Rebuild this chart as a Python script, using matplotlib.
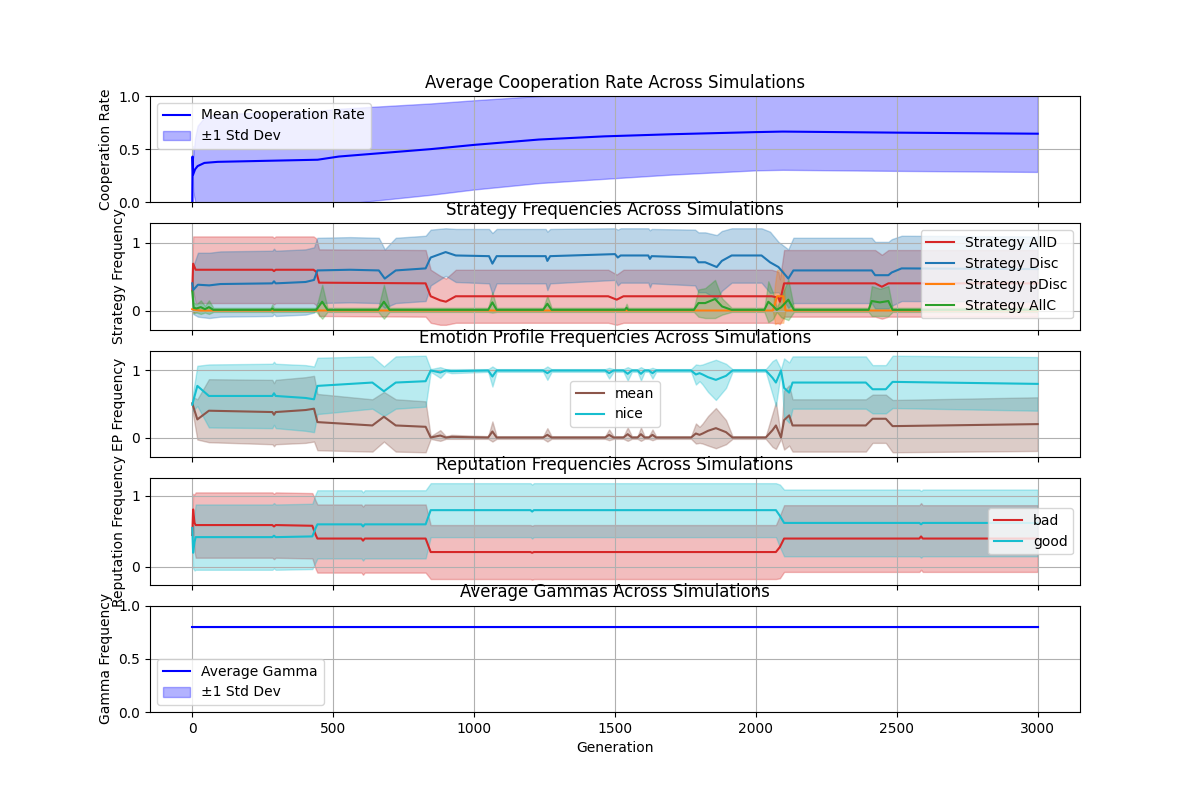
import numpy as np
import matplotlib
matplotlib.use('Agg')
import matplotlib.pyplot as plt

# --- cooperation rate (mean / std) ---
coop_gen = [0, 1, 3, 10, 19, 43, 90, 445, 520, 847, 1001, 1230, 1462, 1700, 2000, 2095, 2500, 3000]
coop_mean = [0.0, 0.43, 0.26, 0.31, 0.34, 0.37, 0.38, 0.40, 0.43, 0.50, 0.54, 0.59, 0.62, 0.64, 0.66, 0.665, 0.655, 0.645]
coop_std = [0.0, 0.1, 0.16, 0.3, 0.38, 0.43, 0.45, 0.46, 0.45, 0.43, 0.42, 0.41, 0.40, 0.38, 0.36, 0.36, 0.36, 0.36]

# --- strategies ---
alld_gen = [0, 3, 12, 284, 290, 296, 430, 440, 450, 828, 846, 880, 900, 935,
            1476, 1506, 1530, 2056, 2080, 2085, 2100, 2423, 2447, 2470, 3000]
alld_mean = [0.3, 0.69, 0.6, 0.6, 0.58, 0.6, 0.6, 0.57, 0.41, 0.4, 0.21, 0.15, 0.13, 0.21,
             0.21, 0.16, 0.21, 0.21, 0.19, 0.13, 0.4, 0.4, 0.35, 0.4, 0.4]
alld_std = [0.3, 0.4, 0.49, 0.49, 0.49, 0.49, 0.49, 0.49, 0.49, 0.49, 0.39, 0.36, 0.34, 0.39,
            0.39, 0.37, 0.39, 0.39, 0.38, 0.33, 0.49, 0.49, 0.47, 0.49, 0.49]

disc_gen = [0, 3, 20, 60, 100,
            284, 290, 296,
            402, 432, 444,
            560, 662, 683, 722,
            828, 846, 899, 935,
            1053, 1065, 1080,
            1254, 1260, 1270,
            1500, 1510, 1520,
            1618, 1624, 1630,
            1784, 1796, 1820,
            1861, 1879, 1914,
            2020, 2050, 2080,
            2115, 2133,
            2411, 2423, 2470, 2482, 2517,
            3000]
disc_mean = [0.4, 0.3, 0.38, 0.37, 0.39,
             0.4, 0.43, 0.4,
             0.42, 0.45, 0.59,
             0.6, 0.59, 0.47, 0.59,
             0.62, 0.78, 0.86, 0.81,
             0.8, 0.69, 0.8,
             0.8, 0.73, 0.8,
             0.83, 0.78, 0.81,
             0.81, 0.76, 0.8,
             0.78, 0.71, 0.71,
             0.64, 0.73, 0.81,
             0.81, 0.71, 0.64,
             0.47, 0.59,
             0.59, 0.52, 0.52, 0.56, 0.62,
             0.61]
disc_std = [0.2, 0.35, 0.47, 0.48, 0.48,
            0.48, 0.48, 0.48,
            0.48, 0.48, 0.48,
            0.48, 0.48, 0.43, 0.48,
            0.48, 0.41, 0.35, 0.39,
            0.4, 0.45, 0.4,
            0.4, 0.43, 0.4,
            0.38, 0.41, 0.4,
            0.4, 0.42, 0.4,
            0.41, 0.44, 0.44,
            0.47, 0.44, 0.4,
            0.4, 0.45, 0.37,
            0.43, 0.48,
            0.48, 0.49, 0.49, 0.49, 0.48,
            0.48]

pdisc_gen = [0, 10, 30, 2060, 2068, 2075, 2097, 2105, 3000]
pdisc_mean = [0.02, 0.01, 0.0, 0.0, 0.1, 0.21, 0.21, 0.0, 0.0]
pdisc_std = [0.05, 0.03, 0.0, 0.0, 0.3, 0.39, 0.39, 0.0, 0.0]

allc_gen = [0, 5, 15, 30, 45, 59, 75,
            278, 284, 290,
            440, 461, 480,
            660, 680, 700,
            1050, 1065, 1080,
            1245, 1260, 1275,
            1535, 1541, 1547,
            1780, 1796, 1820, 1855, 1880, 1914,
            2030, 2044, 2060, 2074, 2090, 2115, 2135,
            2400, 2411, 2440, 2470, 2485,
            3000]
allc_mean = [0.28, 0.04, 0.03, 0.05, 0.02, 0.05, 0.01,
             0.01, 0.03, 0.01,
             0.01, 0.13, 0.01,
             0.01, 0.13, 0.01,
             0.01, 0.12, 0.01,
             0.01, 0.1, 0.01,
             0.01, 0.04, 0.01,
             0.01, 0.11, 0.11, 0.17, 0.06, 0.01,
             0.01, 0.13, 0.07, 0.01, 0.05, 0.16, 0.01,
             0.01, 0.14, 0.12, 0.14, 0.01,
             0.01]
allc_std = [0.2, 0.08, 0.06, 0.1, 0.05, 0.1, 0.03,
            0.03, 0.06, 0.03,
            0.03, 0.25, 0.03,
            0.03, 0.25, 0.03,
            0.03, 0.15, 0.03,
            0.03, 0.12, 0.03,
            0.03, 0.06, 0.03,
            0.03, 0.2, 0.22, 0.28, 0.12, 0.03,
            0.03, 0.3, 0.2, 0.03, 0.15, 0.3, 0.03,
            0.03, 0.22, 0.2, 0.22, 0.03,
            0.03]

# --- emotion profiles ---
ep_gen = [0, 18, 59,
          284, 290, 296,
          402, 432, 444,
          639, 680, 722,
          828, 846, 880, 900, 920,
          1050, 1065, 1080,
          1245, 1260, 1275,
          1465, 1479, 1495,
          1530, 1545, 1560,
          1580, 1592, 1605,
          1620, 1633, 1646,
          1770, 1787, 1800, 1811, 1830, 1858, 1894, 1917,
          2035, 2059, 2071, 2089, 2100, 2118, 2130,
          2390, 2414, 2461, 2485,
          3000]
ep_nice = [0.49, 0.77, 0.62,
           0.62, 0.66, 0.62,
           0.59, 0.57, 0.77,
           0.82, 0.69, 0.82,
           0.84, 1.0, 0.97, 1.0, 0.99,
           1.0, 0.91, 1.0,
           1.0, 0.96, 1.0,
           1.0, 0.96, 1.0,
           1.0, 0.95, 1.0,
           1.0, 0.95, 1.0,
           1.0, 0.96, 1.0,
           1.0, 0.94, 0.96, 0.94, 0.9, 0.86, 0.92, 1.0,
           1.0, 0.89, 0.82, 1.0, 0.74, 0.67, 0.82,
           0.82, 0.72, 0.72, 0.83,
           0.8]
ep_mean = [0.51, 0.27, 0.4,
           0.38, 0.34, 0.38,
           0.41, 0.43, 0.23,
           0.18, 0.31, 0.18,
           0.16, 0.0, 0.03, 0.0, 0.01,
           0.0, 0.09, 0.0,
           0.0, 0.04, 0.0,
           0.0, 0.04, 0.0,
           0.0, 0.05, 0.0,
           0.0, 0.05, 0.0,
           0.0, 0.04, 0.0,
           0.0, 0.06, 0.04, 0.06, 0.1, 0.14, 0.08, 0.0,
           0.0, 0.11, 0.18, 0.0, 0.26, 0.33, 0.18,
           0.18, 0.28, 0.28, 0.17,
           0.2]
ep_std = [0.1, 0.3, 0.47,
          0.48, 0.47, 0.48,
          0.49, 0.49, 0.42,
          0.39, 0.37, 0.39,
          0.38, 0.02, 0.08, 0.02, 0.03,
          0.02, 0.15, 0.02,
          0.02, 0.1, 0.02,
          0.02, 0.08, 0.02,
          0.02, 0.1, 0.02,
          0.02, 0.1, 0.02,
          0.02, 0.08, 0.02,
          0.02, 0.15, 0.12, 0.15, 0.22, 0.3, 0.18, 0.02,
          0.02, 0.25, 0.35, 0.02, 0.44, 0.45, 0.39,
          0.39, 0.36, 0.36, 0.39,
          0.4]

# --- reputation ---
rep_gen = [0, 3, 8, 12, 284, 290, 296, 426, 438, 444, 600, 606, 612, 828, 846,
           1200, 1206, 1212, 2071, 2085, 2100, 2580, 2586, 2592, 3000]
rep_bad = [0.45, 0.81, 0.62, 0.59, 0.59, 0.57, 0.59, 0.58, 0.45, 0.4, 0.4, 0.37, 0.4, 0.4, 0.21,
           0.21, 0.2, 0.21, 0.21, 0.28, 0.4, 0.4, 0.43, 0.4, 0.4]
rep_good = [0.55, 0.2, 0.35, 0.42, 0.42, 0.44, 0.42, 0.43, 0.55, 0.6, 0.6, 0.57, 0.6, 0.6, 0.8,
            0.8, 0.78, 0.8, 0.8, 0.72, 0.62, 0.62, 0.6, 0.62, 0.62]
rep_std = [0.15, 0.22, 0.4, 0.46, 0.46, 0.46, 0.46, 0.46, 0.48, 0.48, 0.48, 0.48, 0.48, 0.48, 0.38,
           0.38, 0.38, 0.38, 0.38, 0.44, 0.47, 0.47, 0.47, 0.47, 0.47]

# --- gamma ---
gamma_gen = [0, 3000]
gamma_mean = [0.8, 0.8]
gamma_std = [0.0, 0.0]


def band(ax, gen, mean, std, color, label, alpha=0.3, band_label=None):
    gen = np.array(gen)
    mean = np.array(mean)
    std = np.array(std)
    ax.plot(gen, mean, color=color, label=label)
    ax.fill_between(gen, mean - std, mean + std, color=color, alpha=alpha, label=band_label)


fig, axes = plt.subplots(5, 1, figsize=(12, 8), sharex=True)

ax = axes[0]
band(ax, coop_gen, coop_mean, coop_std, 'b', 'Mean Cooperation Rate', band_label='±1 Std Dev')
ax.set_ylim(0, 1)
ax.set_title('Average Cooperation Rate Across Simulations')
ax.set_ylabel('Cooperation Rate')
ax.legend(loc='upper left')
ax.grid(True)

ax = axes[1]
band(ax, alld_gen, alld_mean, alld_std, 'tab:red', 'Strategy AllD')
band(ax, disc_gen, disc_mean, disc_std, 'tab:blue', 'Strategy Disc')
band(ax, pdisc_gen, pdisc_mean, pdisc_std, 'tab:orange', 'Strategy pDisc')
band(ax, allc_gen, allc_mean, allc_std, 'tab:green', 'Strategy AllC')
ax.set_title('Strategy Frequencies Across Simulations')
ax.set_ylabel('Strategy Frequency')
ax.legend(loc='upper right')
ax.grid(True)

ax = axes[2]
band(ax, ep_gen, ep_mean, ep_std, 'tab:brown', 'mean')
band(ax, ep_gen, ep_nice, ep_std, 'tab:cyan', 'nice')
ax.set_title('Emotion Profile Frequencies Across Simulations')
ax.set_ylabel('EP Frequency')
ax.legend(loc='center')
ax.grid(True)

ax = axes[3]
band(ax, rep_gen, rep_bad, rep_std, 'tab:red', 'bad')
band(ax, rep_gen, rep_good, rep_std, 'tab:cyan', 'good')
ax.set_title('Reputation Frequencies Across Simulations')
ax.set_ylabel('Reputation Frequency')
ax.legend(loc='center right')
ax.grid(True)

ax = axes[4]
band(ax, gamma_gen, gamma_mean, gamma_std, 'b', 'Average Gamma', band_label='±1 Std Dev')
ax.set_ylim(0, 1)
ax.set_title('Average Gammas Across Simulations')
ax.set_ylabel('Gamma Frequency')
ax.set_xlabel('Generation')
ax.legend(loc='lower left')
ax.grid(True)

for a in axes[1:4]:
    a.set_yticks([0, 1])

plt.savefig('out.png', dpi=100)
